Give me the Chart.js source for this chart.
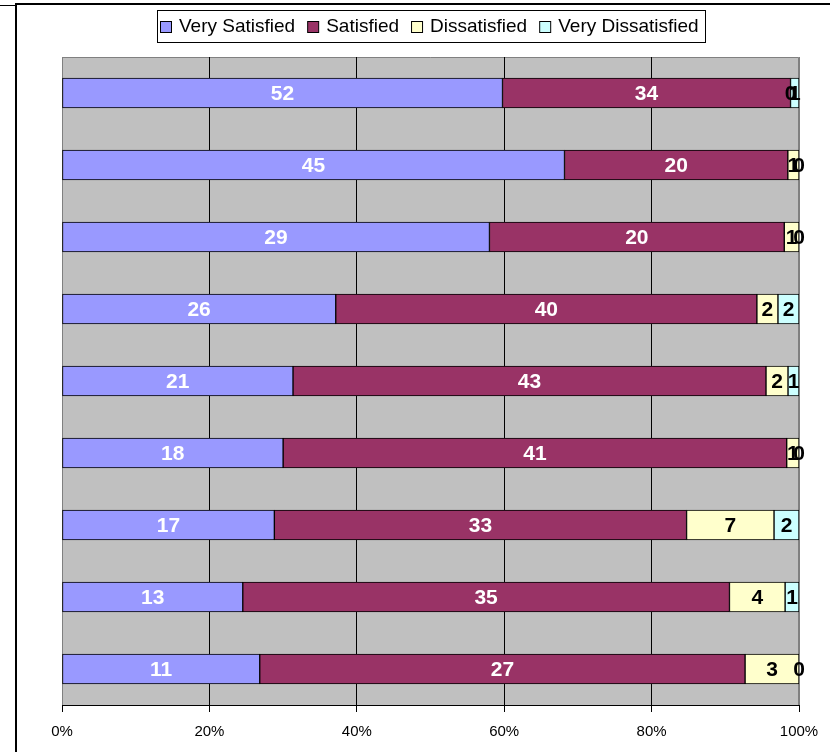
<!DOCTYPE html>
<html>
<head>
<meta charset="utf-8">
<style>
  html, body { margin: 0; padding: 0; background: #fff; }
  #wrap { position: relative; width: 830px; height: 752px; }
</style>
<script src="https://cdn.jsdelivr.net/npm/chart.js@4/dist/chart.umd.min.js"></script>
</head>
<body>
<div id="wrap"><canvas id="myChart" width="830" height="752"></canvas></div>
<script>
// survey rows, top to bottom
var rows = ["1", "2", "3", "4", "5", "6", "7", "8", "9"];
var verySatisfied = [52, 45, 29, 26, 21, 18, 17, 13, 11];
var satisfied = [34, 20, 20, 40, 43, 41, 33, 35, 27];
var dissatisfied = [0, 1, 1, 2, 2, 1, 7, 4, 3];
var veryDissatisfied = [1, 0, 0, 2, 1, 0, 2, 1, 0];
var xTicks = [0, 20, 40, 60, 80, 100];

var counts = [verySatisfied, satisfied, dissatisfied, veryDissatisfied];
var totals = rows.map(function (r, i) {
  return counts.reduce(function (s, arr) { return s + arr[i]; }, 0);
});
function toPct(arr) {
  return arr.map(function (v, i) { return (v / totals[i]) * 100; });
}

var FONT = "'Liberation Sans', Arial, sans-serif";

function series(label, arr, color, textColor) {
  return {
    label: label,
    data: toPct(arr),
    counts: arr,
    textColor: textColor,
    backgroundColor: color,
    borderColor: "#000",
    borderWidth: 1,
    borderSkipped: false,
    barThickness: 30,
  };
}

// gray plot area, frame lines
var plotBg = {
  id: "plotBg",
  beforeDraw: function (chart) {
    var c = chart.ctx, a = chart.chartArea;
    c.save();
    c.fillStyle = "#C0C0C0";
    c.fillRect(a.left, a.top, a.right - a.left, a.bottom - a.top);
    c.strokeStyle = "#808080";
    c.lineWidth = 1;
    c.beginPath();
    c.moveTo(a.left + 0.5, a.bottom);
    c.lineTo(a.left + 0.5, a.top + 0.5);
    c.lineTo(a.right - 0.5, a.top + 0.5);
    c.lineTo(a.right - 0.5, a.bottom);
    c.stroke();

    // outer chart frame
    c.strokeStyle = "#000";
    c.lineWidth = 2;
    c.beginPath();
    c.moveTo(16, chart.height);
    c.lineTo(16, 4);
    c.lineTo(chart.width, 4);
    c.stroke();
    c.lineWidth = 1;
    c.beginPath();
    c.moveTo(0, 5.5);
    c.lineTo(15, 5.5);
    c.stroke();
    c.restore();
  },
};

// value labels centred in each segment
var barValues = {
  id: "barValues",
  afterDatasetsDraw: function (chart) {
    var c = chart.ctx;
    c.save();
    c.font = "bold 21px " + FONT;
    c.textAlign = "center";
    c.textBaseline = "middle";
    chart.data.datasets.forEach(function (ds, di) {
      chart.getDatasetMeta(di).data.forEach(function (bar, i) {
        var p = bar.getProps(["x", "y", "base"], true);
        c.fillStyle = ds.textColor;
        c.fillText(String(ds.counts[i]), (p.x + p.base) / 2, p.y + 1);
      });
    });
    c.restore();
  },
};

// boxed legend above the plot
var boxLegend = {
  id: "boxLegend",
  afterDraw: function (chart) {
    var c = chart.ctx, a = chart.chartArea;
    var sq = 11, gap = 8, space = 12;
    c.save();
    c.font = "19px " + FONT;
    var items = chart.data.datasets.map(function (ds) {
      return { ds: ds, w: c.measureText(ds.label).width };
    });
    var total = items.reduce(function (s, it) { return s + sq + gap + it.w; }, 0) + space * (items.length - 1);
    var boxL = Math.round((a.left + a.right) / 2 - total / 2 - 4);
    var boxW = Math.round(total + 9);
    var top = 10, h = 32, cy = top + h / 2;
    c.fillStyle = "#fff";
    c.fillRect(boxL, top, boxW, h);
    c.strokeStyle = "#000";
    c.lineWidth = 1;
    c.strokeRect(boxL + 0.5, top + 0.5, boxW, h);
    var x = boxL + 3;
    c.textBaseline = "middle";
    c.textAlign = "left";
    items.forEach(function (it) {
      var sy = Math.round(cy - sq / 2) + 0.5;
      c.fillStyle = it.ds.backgroundColor;
      c.fillRect(x + 0.5, sy, sq, sq);
      c.strokeStyle = "#000";
      c.strokeRect(x + 0.5, sy, sq, sq);
      c.fillStyle = "#000";
      c.fillText(it.ds.label, x + sq + gap, cy + 1);
      x += sq + gap + it.w + space;
    });
    c.restore();
  },
};

var ctx = document.getElementById("myChart");
var myChart = new Chart(ctx, {
  type: "bar",
  data: {
    labels: rows,
    datasets: [
      series("Very Satisfied", verySatisfied, "#9999FF", "#fff"),
      series("Satisfied", satisfied, "#993366", "#fff"),
      series("Dissatisfied", dissatisfied, "#FFFFCC", "#000"),
      series("Very Dissatisfied", veryDissatisfied, "#CCFFFF", "#000"),
    ],
  },
  options: {
    indexAxis: "y",
    responsive: false,
    animation: false,
    layout: {
      padding: { left: 62, right: 31, top: 57, bottom: 0 },
    },
    plugins: {
      legend: { display: false },
      tooltip: { enabled: false },
    },
    scales: {
      x: {
        stacked: true,
        min: 0,
        max: 100,
        afterBuildTicks: function (axis) {
          axis.ticks = xTicks.map(function (v) { return { value: v }; });
        },
        ticks: {
          padding: 11,
          color: "#000",
          font: { family: FONT, size: 15 },
          callback: function (v) { return v + "%"; },
        },
        grid: {
          color: function (c) {
            return c.index === 0 || c.index === xTicks.length - 1 ? "#808080" : "#000";
          },
          tickColor: "#000",
          tickLength: 7,
          lineWidth: 1,
        },
        border: { color: "#000", width: 1 },
      },
      y: {
        stacked: true,
        display: false,
      },
    },
  },
  plugins: [plotBg, barValues, boxLegend],
});
</script>
</body>
</html>
